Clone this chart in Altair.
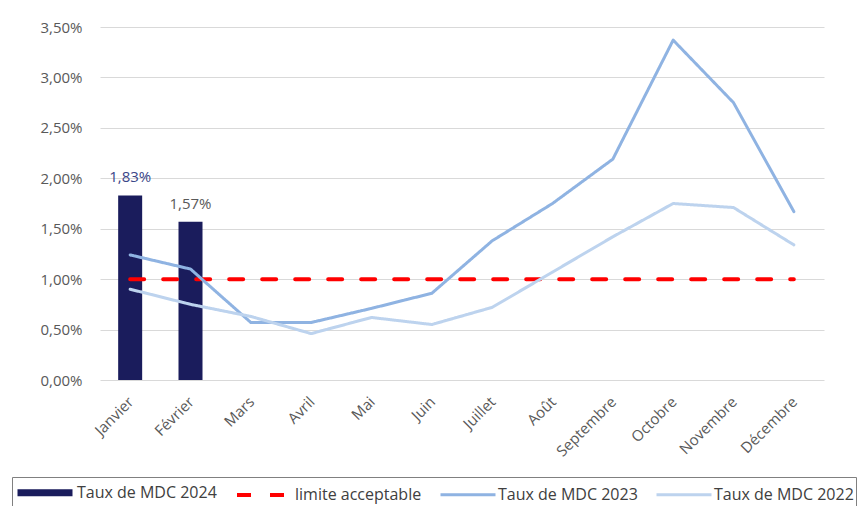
import altair as alt
import pandas as pd

mois = ["Janvier", "Février", "Mars", "Avril", "Mai", "Juin", "Juillet",
        "Août", "Septembre", "Octobre", "Novembre", "Décembre"]
taux_2024 = [0.0183, 0.0157]
taux_2023 = [0.0124, 0.0110, 0.0057, 0.0057, 0.0071, 0.0086, 0.0138,
             0.0175, 0.0219, 0.0337, 0.0275, 0.0167]
taux_2022 = [0.0090, 0.0075, 0.0063, 0.0046, 0.0062, 0.0055, 0.0072,
             0.0107, 0.0142, 0.0175, 0.0171, 0.0134]
limite = [0.01] * 12

series = ["Taux de MDC 2024", "limite acceptable", "Taux de MDC 2023", "Taux de MDC 2022"]
y_ticks = [0, 0.005, 0.01, 0.015, 0.02, 0.025, 0.03, 0.035]

bars = pd.DataFrame({"mois": mois[:len(taux_2024)], "v": taux_2024})
lines = pd.concat([
    pd.DataFrame({"mois": mois, "v": limite, "serie": series[1]}),
    pd.DataFrame({"mois": mois, "v": taux_2023, "serie": series[2]}),
    pd.DataFrame({"mois": mois, "v": taux_2022, "serie": series[3]}),
])

pct = "replace(format(datum.value, '.2%'), '.', ',')"
FONT = "Open Sans"
GREY = "#595959"

x = alt.X("mois:N", sort=mois, title=None,
          scale=alt.Scale(paddingInner=0, paddingOuter=0),
          axis=alt.Axis(labelAngle=-45, labelColor=GREY, labelFont=FONT,
                        labelFontSize=15, domain=False, ticks=False,
                        labelPadding=14, labelOffset=-4))
y = alt.Y("v:Q", title=None,
          scale=alt.Scale(domain=[0, 0.035], nice=False),
          axis=alt.Axis(values=y_ticks, labelExpr=pct, labelColor=GREY,
                        labelFont=FONT, labelFontSize=15, domain=False,
                        ticks=False, labelPadding=18, gridColor="#d9d9d9"))

bar_layer = alt.Chart(bars).mark_bar(size=24, color="#1a1c5c").encode(x=x, y=y)

text_layer = alt.Chart(bars).transform_calculate(
    lbl="replace(format(datum.v, '.2%'), '.', ',')"
).mark_text(baseline="bottom", dy=-10, font=FONT, fontSize=15).encode(
    x=alt.X("mois:N", sort=mois),
    y="v:Q",
    text="lbl:N",
    color=alt.condition(alt.datum.mois == "Janvier", alt.value("#3b4688"), alt.value(GREY)),
)

line_layer = alt.Chart(lines).mark_line(strokeCap="round", strokeJoin="round").encode(
    x=alt.X("mois:N", sort=mois),
    y="v:Q",
    detail="serie:N",
    color=alt.Color("serie:N", title=None,
                    scale=alt.Scale(domain=series,
                                    range=["#1a1c5c", "#ff0000", "#8fb3e2", "#bdd3ee"]),
                    legend=alt.Legend(orient="none", legendX=-88, legendY=450,
                                      direction="horizontal",
                                      symbolType="M-1,0H4.5",
                                      symbolSize=400, labelFont=FONT, labelFontSize=16,
                                      labelColor="#404040", labelOffset=36,
                                      columnPadding=12, padding=2,
                                      strokeColor="#808080", labelLimit=300)),
    strokeDash=alt.StrokeDash("serie:N", scale=alt.Scale(domain=series,
                              range=[[1, 0], [14, 19], [1, 0], [1, 0]])),
    strokeWidth=alt.StrokeWidth("serie:N", scale=alt.Scale(type="ordinal", domain=series,
                                range=[7, 4, 3, 3])),
    order=alt.Order("serie:N", sort="descending"),
)

chart = alt.layer(bar_layer, line_layer, text_layer).properties(
    width=724, height=353,
    autosize=alt.AutoSizeParams(type="none"),
    padding={"left": 92, "top": 19, "right": 34, "bottom": 126},
).configure_view(stroke=None)

chart.save("out.html", embed_options={"renderer": "svg", "actions": False})
